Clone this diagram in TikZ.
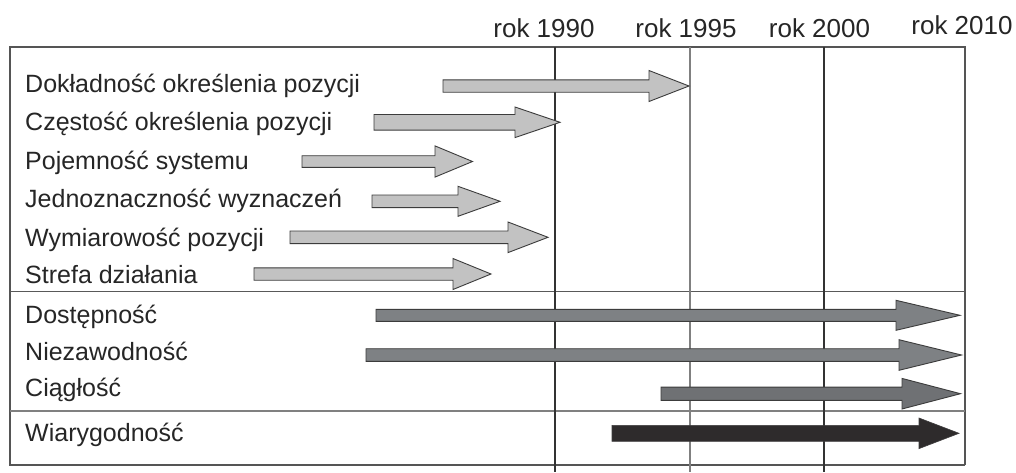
\documentclass[tikz,border=0pt]{standalone}
\usepackage{fontspec}
\setmainfont{Liberation Sans}
\definecolor{txt}{HTML}{262626}
\definecolor{lightfill}{HTML}{C2C2C2}
\definecolor{midfill}{HTML}{7E8184}
\definecolor{midfillb}{HTML}{6F7174}
\definecolor{darkfill}{HTML}{2E2B2C}
\definecolor{outl}{HTML}{3C3C3C}
\definecolor{frame}{HTML}{555555}
\newcommand{\fatarrow}[8]{% style, x0, yc, half shaft, head base x, half head, tip x, name
  \draw[#1] (#2,#3-#4) -- (#5,#3-#4) -- (#5,#3-#6) -- (#7,#3) coordinate (#8)
    -- (#5,#3+#6) -- (#5,#3+#4) -- (#2,#3+#4) -- cycle;}
\tikzset{
  lbl/.style={anchor=base west, inner sep=0pt, text=txt, font=\fontsize{25}{30}\selectfont},
  yr/.style={anchor=base, inner sep=0pt, text=txt, font=\fontsize{26}{30}\selectfont},
  lightarrow/.style={fill=lightfill, draw=outl, line width=0.9pt},
  midarrow/.style={fill=midfill, draw=outl, line width=0.9pt},
  midarrowb/.style={fill=midfillb, draw=outl, line width=0.9pt},
  darkarrow/.style={fill=darkfill, draw=darkfill!80!gray, line width=0.6pt},
  grid/.style={draw=black!80, line width=1.1pt},
  gridlight/.style={draw=black!50, line width=1.4pt},
  sep/.style={draw=black!65, line width=1.8pt},
  boxline/.style={draw=frame, line width=1.2pt}
}
\begin{document}
\begin{tikzpicture}[x=1pt,y=-1pt]
\useasboundingbox (0,0) rectangle (1016,472);
\fill[white] (0,0) rectangle (1016,472);
% frame
\draw[boxline] (965,465) -- (10,465) -- (10,47) -- (965,47) -- (965,465);
% separators
\draw[sep] (10,291.5) -- (965,291.5);
\draw[sep, draw=black!50] (10,411) -- (965,411);
% vertical year lines
\draw[grid] (555,47) -- (555,472);
\draw[gridlight] (690,47) -- (690,472);
\draw[grid] (824,47) -- (824,472);
% year labels
\node[yr] (y90) at (544,37) {rok 1990};
\node[yr] (y95) at (686,37) {rok 1995};
\node[yr] (y00) at (819.5,37) {rok 2000};
\node[yr] (y10) at (962,34) {rok 2010};
% row labels
\node[lbl] (l1) at (25,92) {Dokładność określenia pozycji};
\node[lbl] (l2) at (25,130) {Częstość określenia pozycji};
\node[lbl] (l3) at (25,169) {Pojemność systemu};
\node[lbl] (l4) at (25,207.5) {Jednoznaczność wyznaczeń};
\node[lbl] (l5) at (25,246) {Wymiarowość pozycji};
\node[lbl] (l6) at (25,283.5) {Strefa działania};
\node[lbl] (l7) at (25,323) {Dostępność};
\node[lbl] (l8) at (25,360) {Niezawodność};
\node[lbl] (l9) at (25,396) {Ciągłość};
\node[lbl] (l10) at (25,441) {Wiarygodność};
% arrows
\fatarrow{lightarrow}{443}{86}{6.2}{649}{15.5}{689}{a1}
\fatarrow{lightarrow}{374}{122.3}{7.8}{515}{15.3}{560}{a2}
\fatarrow{lightarrow}{302}{161.5}{5.8}{435}{15.6}{472.5}{a3}
\fatarrow{lightarrow}{372}{201.3}{6.3}{458}{15}{500}{a4}
\fatarrow{lightarrow}{290}{237.3}{6.3}{508}{15.3}{548}{a5}
\fatarrow{lightarrow}{254}{274}{6.2}{453}{15.5}{491}{a6}
\fatarrow{midarrow}{376}{315.3}{6}{896}{15}{960}{a7}
\fatarrow{midarrow}{366}{355}{6.3}{899}{15.3}{961.5}{a8}
\fatarrow{midarrowb}{661}{393.7}{6.6}{902}{15.3}{960.5}{a9}
\fatarrow{darkarrow}{612}{433.3}{8}{919}{15.3}{959}{a10}
\end{tikzpicture}
\end{document}
